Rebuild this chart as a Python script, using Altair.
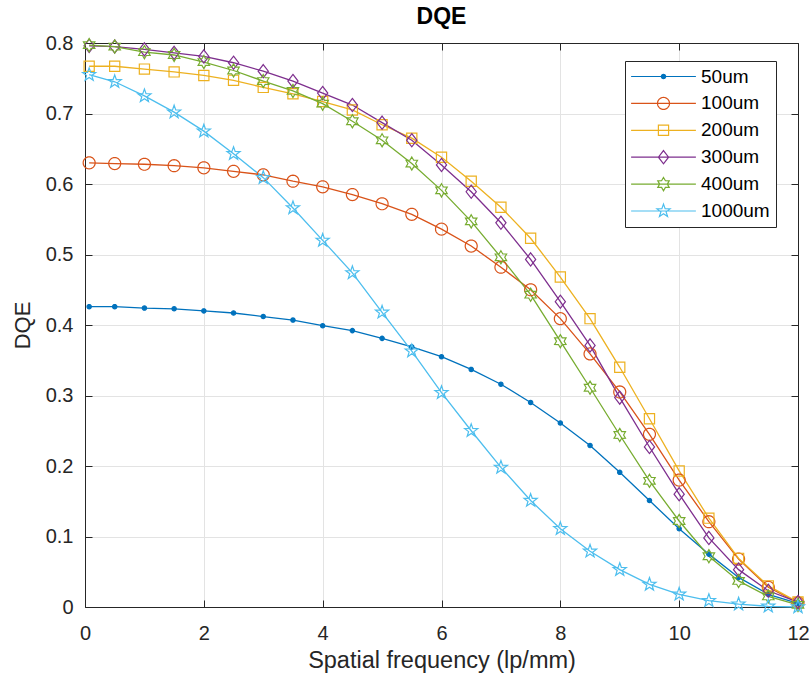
import math
import altair as alt
import pandas as pd

# ---------------- data ----------------
freq = [0.07, 0.5, 1.0, 1.5, 2.0, 2.5, 3.0, 3.5, 4.0, 4.5, 5.0, 5.5, 6.0,
        6.5, 7.0, 7.5, 8.0, 8.5, 9.0, 9.5, 10.0, 10.5, 11.0, 11.5, 12.0]

series_names = ["50um", "100um", "200um", "300um", "400um", "1000um"]

dqe_50um = [0.426, 0.426, 0.424, 0.423, 0.420, 0.417, 0.412, 0.407, 0.399, 0.392,
            0.381, 0.369, 0.355, 0.337, 0.316, 0.290, 0.261, 0.229, 0.191, 0.151,
            0.111, 0.075, 0.042, 0.018, 0.005]
dqe_100um = [0.630, 0.629, 0.628, 0.626, 0.623, 0.618, 0.613, 0.604, 0.596, 0.585,
             0.572, 0.557, 0.536, 0.512, 0.482, 0.450, 0.409, 0.359, 0.305, 0.245,
             0.180, 0.121, 0.068, 0.028, 0.006]
dqe_200um = [0.767, 0.767, 0.763, 0.759, 0.754, 0.747, 0.737, 0.728, 0.717, 0.705,
             0.684, 0.665, 0.638, 0.604, 0.567, 0.523, 0.468, 0.409, 0.340, 0.267,
             0.193, 0.126, 0.069, 0.030, 0.007]
dqe_300um = [0.796, 0.795, 0.791, 0.786, 0.781, 0.772, 0.760, 0.746, 0.729, 0.712,
             0.687, 0.662, 0.627, 0.589, 0.545, 0.493, 0.433, 0.371, 0.297, 0.227,
             0.160, 0.098, 0.053, 0.023, 0.007]
dqe_400um = [0.797, 0.795, 0.787, 0.783, 0.773, 0.761, 0.746, 0.732, 0.714, 0.689,
             0.662, 0.629, 0.591, 0.547, 0.496, 0.443, 0.377, 0.311, 0.244, 0.179,
             0.122, 0.072, 0.037, 0.015, 0.003]
dqe_1000um = [0.755, 0.745, 0.725, 0.702, 0.675, 0.643, 0.609, 0.566, 0.520, 0.474,
              0.418, 0.363, 0.304, 0.250, 0.198, 0.151, 0.111, 0.079, 0.053, 0.032,
              0.018, 0.009, 0.004, 0.001, 0.000]

series_values = [dqe_50um, dqe_100um, dqe_200um, dqe_300um, dqe_400um, dqe_1000um]
series_colors = ["#0072BD", "#D95319", "#EDB120", "#7E2F8E", "#77AC30", "#4DBEEE"]

x_ticks = [0, 2, 4, 6, 8, 10, 12]
y_ticks = [0, 0.1, 0.2, 0.3, 0.4, 0.5, 0.6, 0.7, 0.8]

records = []
for name, values in zip(series_names, series_values):
    for f, v in zip(freq, values):
        records.append({"series": name, "freq": f, "dqe": v})
df = pd.DataFrame(records)

# ---------------- marker shapes (unit paths) ----------------
def _poly(pts):
    return "M" + "L".join(f"{px:.3f},{py:.3f}" for px, py in pts) + "Z"

def _ring(r, n=32):
    return _poly([(r * math.cos(2 * math.pi * k / n), r * math.sin(2 * math.pi * k / n)) for k in range(n)])

def _star(npts, r_out, r_in):
    pts = []
    for k in range(2 * npts):
        a = -math.pi / 2 + k * math.pi / npts
        r = r_out if k % 2 == 0 else r_in
        pts.append((r * math.cos(a), r * math.sin(a)))
    return _poly(pts)

marker_paths = [
    _ring(0.36, 16),
    _ring(1.0),
    _poly([(-0.85, -0.85), (0.85, -0.85), (0.85, 0.85), (-0.85, 0.85)]),
    _poly([(0, -1.1), (0.85, 0), (0, 1.1), (-0.85, 0)]),
    _star(6, 1.1, 0.64),
    _star(5, 1.15, 0.46),
]
legend_paths = ["M-5.4,0L5.4,0" + m for m in marker_paths]

W, H = 713, 564
FONT = "Liberation Sans"
AX = "#262626"

x_scale = alt.Scale(domain=[0, 12], nice=False, zero=False)
y_scale = alt.Scale(domain=[0, 0.8], nice=False, zero=False)
color_scale = alt.Scale(domain=series_names, range=series_colors)
fill_scale = alt.Scale(domain=series_names, range=[series_colors[0]] + ["transparent"] * 5)

legend = alt.Legend(
    title=None, orient="none", legendX=540, legendY=18, padding=6,
    rowPadding=6.9, symbolOffset=23, labelOffset=28, labelFontSize=19,
    labelFont=FONT, labelColor="black", strokeColor=AX, fillColor="white",
    symbolSize=144, symbolStrokeWidth=1.2, labelLimit=300, cornerRadius=0,
)

base = alt.Chart(df)

lines = base.mark_line(strokeWidth=1.3).encode(
    x=alt.X("freq:Q", scale=x_scale, axis=alt.Axis(
        orient="bottom", values=x_ticks, format="~g", grid=True, ticks=False,
        labelPadding=16, labelFlush=False, title="Spatial frequency (lp/mm)",
        titleFontSize=23.5, titlePadding=5)),
    y=alt.Y("dqe:Q", scale=y_scale, axis=alt.Axis(
        orient="left", values=y_ticks, format="~g", grid=True, ticks=False,
        labelPadding=12, labelFlush=False, title="DQE", titleFontSize=22,
        titlePadding=11)),
    color=alt.Color("series:N", scale=color_scale, legend=None),
)

points = base.mark_point(filled=False, size=144, strokeWidth=1.2, opacity=1).encode(
    x=alt.X("freq:Q", scale=x_scale, axis=alt.Axis(
        orient="top", offset=-H, values=x_ticks, labels=False, grid=False,
        tickSize=7, domain=False, title=None)),
    y=alt.Y("dqe:Q", scale=y_scale, axis=alt.Axis(
        orient="right", offset=-W, values=y_ticks, labels=False, grid=False,
        tickSize=7, domain=False, title=None)),
    color=alt.Color("series:N", scale=color_scale, legend=None),
    fill=alt.Fill("series:N", scale=fill_scale, legend=None),
    shape=alt.Shape("series:N", scale=alt.Scale(domain=series_names, range=marker_paths), legend=None),
)

legend_layer = base.mark_point(filled=False, size=144, strokeWidth=1.2, opacity=1).encode(
    x=alt.X("freq:Q", scale=x_scale, axis=alt.Axis(
        orient="bottom", offset=-H, values=x_ticks, labels=False, grid=False,
        tickSize=7, domain=True, title=None)),
    y=alt.Y("dqe:Q", scale=y_scale, axis=alt.Axis(
        orient="left", offset=-W, values=y_ticks, labels=False, grid=False,
        tickSize=7, domain=True, title=None)),
    color=alt.Color("series:N", scale=color_scale, legend=legend),
    fill=alt.Fill("series:N", scale=fill_scale, legend=legend),
    shape=alt.Shape("series:N", scale=alt.Scale(domain=series_names, range=legend_paths), legend=legend),
).transform_filter("false")

chart = alt.layer(lines, points, legend_layer).resolve_scale(
    color="independent", fill="independent", shape="independent"
).resolve_axis(
    x="independent", y="independent"
).properties(
    width=W, height=H,
    title=alt.TitleParams("DQE", font=FONT, fontSize=23, fontWeight="bold",
                          color="black", anchor="middle", frame="group",
                          baseline="alphabetic", offset=-14),
    autosize=alt.AutoSizeParams(type="none"),
    padding={"left": 85, "top": 43, "right": 13, "bottom": 70},
).configure_view(stroke=None).configure_axis(
    labelFont=FONT, labelFontSize=20, labelColor=AX, domainColor=AX,
    tickColor=AX, gridColor="#e3e3e3", titleFont=FONT, titleFontWeight="normal",
    titleColor=AX, domainWidth=1, tickWidth=1, gridWidth=1,
)

chart.save("out.html", embed_options={"renderer": "svg", "actions": False})
